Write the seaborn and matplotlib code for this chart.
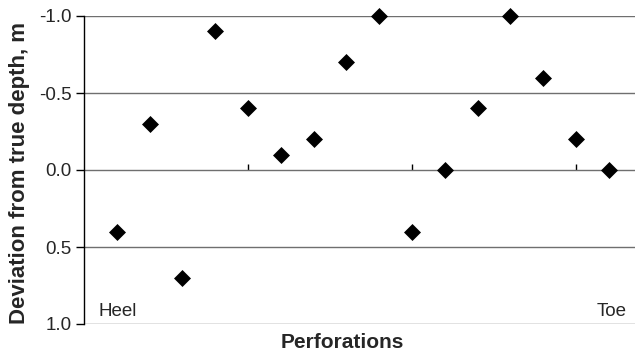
import matplotlib
matplotlib.use("Agg")
import matplotlib.pyplot as plt
import seaborn as sns
import pandas as pd

# Perforation index along the well and its depth deviation (m)
perforations = list(range(1, 17))
deviation = [0.4, -0.3, 0.7, -0.9, -0.4, -0.1, -0.2, -0.7,
             -1.0, 0.4, 0.0, -0.4, -1.0, -0.6, -0.2, 0.0]
y_ticks = [-1.0, -0.5, 0.0, 0.5, 1.0]
y_tick_labels = ["-1.0", "-0.5", "0.0", "0.5", "1.0"]
x_ticks = [5, 10, 15]

sns.set_style("white")
plt.rcParams["font.family"] = ["Liberation Sans", "DejaVu Sans"]

df = pd.DataFrame({"perf": perforations, "dev": deviation})

fig = plt.figure(figsize=(6.35, 3.53), dpi=100)
ax = fig.add_axes([84 / 635, 1 - 324 / 353, 1 - 84 / 635, 308 / 353])

# horizontal reference lines
for yv in [-1.0, -0.5, 0.5, 1.0]:
    ax.axhline(yv, color="#6f6f6f", lw=1.0, zorder=1)

sns.scatterplot(data=df, x="perf", y="dev", marker="D", color="black",
                s=75, edgecolor="black", linewidth=0, ax=ax, zorder=3,
                clip_on=False)

ax.set_xlim(0, 16.8)
ax.set_ylim(1.0, -1.0)

for side in ["top", "right", "bottom"]:
    ax.spines[side].set_visible(False)
ax.spines["left"].set_color("black")
ax.spines["left"].set_linewidth(1.0)

# category axis crosses at zero
ax.axhline(0.0, color="#6f6f6f", lw=1.0, zorder=2)
ax.set_xticks(x_ticks)
ax.set_xticklabels([])
ax.tick_params(axis="x", direction="in", length=4, width=1, color="black",
               bottom=True)
ax.xaxis.set_ticks_position("bottom")
ax.spines["bottom"].set_position(("data", 0.0))
ax.spines["bottom"].set_visible(False)

ax.set_yticks(y_ticks)
ax.set_yticklabels(y_tick_labels, fontsize=13.5)
ax.tick_params(axis="y", direction="out", length=6, width=1, color="black",
               left=True, pad=3)

ax.set_xlabel("")
ax.set_ylabel("")
fig.text(20 / 635, 1 - 173 / 353, "Deviation from true depth, m",
         rotation=90, ha="center", va="center", fontsize=16,
         fontweight="bold")
fig.text(342 / 635, 1 - 342 / 353, "Perforations", ha="center",
         va="center", fontsize=15, fontweight="bold")

ax.text(0.45, 0.92, "Heel", ha="left", va="center", fontsize=13.5)
ax.text(16.55, 0.92, "Toe", ha="right", va="center", fontsize=13.5)

fig.savefig("out.png", dpi=100)
